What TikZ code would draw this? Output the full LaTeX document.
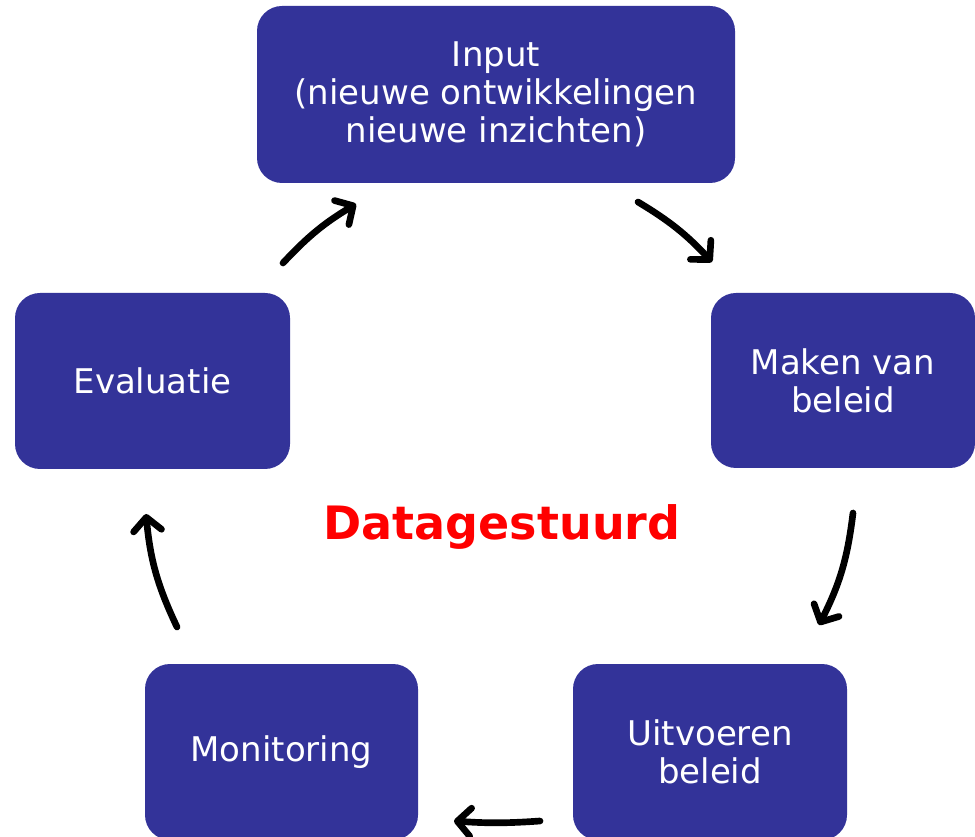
\documentclass[tikz,border=0pt]{standalone}
\usepackage{fontspec}
\setmainfont{DejaVu Sans}
\usetikzlibrary{arrows.meta}

\definecolor{boxblue}{RGB}{51,51,153}
\tikzset{every picture/.style={line width=0.75pt}}
\tikzset{
  stepbox/.style={fill=boxblue, draw=none, rounded corners=18.75pt, text=white,
    align=center, inner sep=0pt, font=\fontsize{25.5}{28.5}\selectfont},
  cyclearrow/.style={line width=5pt, line cap=round,
    -{Straight Barb[length=10pt, width=21pt, round]}}
}

\begin{document}
\begin{tikzpicture}[x=0.75pt,y=0.75pt,yscale=-1,xscale=1]
%set diagram left start at 0, and has height of 837
\useasboundingbox (0,0) rectangle (975,837);

%Shape: Rounded Rect [id:input]
\node[stepbox, minimum width=358.5pt, minimum height=132.75pt] (input) at (496,94.5) {Input\\(nieuwe ontwikkelingen\\nieuwe inzichten)};
%Shape: Rounded Rect [id:beleid]
\node[stepbox, minimum width=198pt, minimum height=131.25pt] (beleid) at (843,380.5) {Maken van\\beleid};
%Shape: Rounded Rect [id:uitvoeren]
\node[stepbox, minimum width=205.5pt, minimum height=132pt] (uitvoeren) at (710,752) {Uitvoeren\\beleid};
%Shape: Rounded Rect [id:monitoring]
\node[stepbox, minimum width=204.75pt, minimum height=132pt] (monitoring) at (281.5,752) {Monitoring};
%Shape: Rounded Rect [id:evaluatie]
\node[stepbox, minimum width=206.25pt, minimum height=132pt] (evaluatie) at (152.5,381) {Evaluatie};

% Text Node
\node[text=red, font=\bfseries\fontsize{34.5}{40}\selectfont] (data) at (502,527) {Datagestuurd};

%Arrow ends
\coordinate (evalout) at (283,263);
\coordinate (inputin) at (356,204);
\coordinate (inputout) at (638,202);
\coordinate (beleidin) at (712,262);
\coordinate (beleidout) at (853,513);
\coordinate (uitvoerin) at (819,625);
\coordinate (uitvoerout) at (540,821);
\coordinate (monitorin) at (454,821);
\coordinate (monitorout) at (177,627);
\coordinate (evalin) at (146,514);

%Curve Lines
\draw[cyclearrow] (evalout) to[bend right=8] (inputin);
\draw[cyclearrow] (inputout) to[bend right=8] (beleidin);
\draw[cyclearrow] (beleidout) to[bend right=10] (uitvoerin);
\draw[cyclearrow] (uitvoerout) to[bend right=4] (monitorin);
\draw[cyclearrow] (monitorout) to[bend right=10] (evalin);

\end{tikzpicture}
\end{document}
